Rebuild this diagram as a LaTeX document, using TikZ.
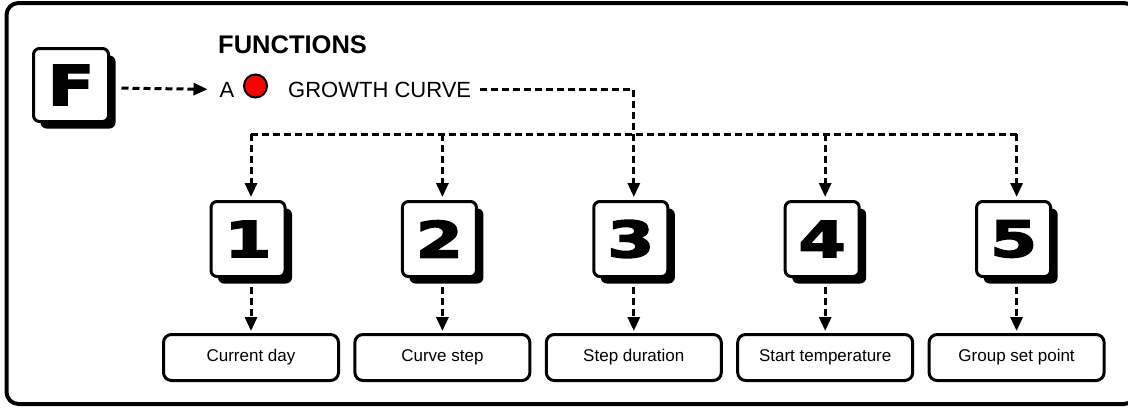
\documentclass[tikz,border=0pt]{standalone}
\usepackage{fontspec}
\usepackage{graphicx}
\setmainfont{Liberation Sans}
\newfontfamily\numfont[FakeBold=3]{DejaVu Sans Bold}
\usetikzlibrary{arrows.meta,shadows,calc}
\begin{document}
\begin{tikzpicture}[x=1pt,y=-1pt,
  frame/.style={draw, line width=4pt, rounded corners=12pt},
  numbox/.style={draw, line width=3pt, rounded corners=6pt, fill=white,
    minimum width=74pt, minimum height=75pt, inner sep=0pt,
    drop shadow={shadow xshift=7pt, shadow yshift=-7pt, fill=black, opacity=1},
    font=\numfont\fontsize{50}{50}\selectfont},
  fbox/.style={numbox, minimum width=75pt, minimum height=73pt,
    font=\numfont\fontsize{55}{55}\selectfont},
  labelbox/.style={draw, line width=3pt, rounded corners=8pt, fill=white,
    minimum width=175pt, minimum height=46pt, inner sep=0pt,
    font=\fontsize{17}{20}\selectfont},
  txt/.style={inner sep=0pt, anchor=base west, font=\fontsize{22}{26}\selectfont},
  title/.style={inner sep=0pt, anchor=base west, font=\bfseries\fontsize{25.5}{30}\selectfont},
  dline/.style={line width=3pt, dash pattern=on 7pt off 4pt},
  arr/.style={-{Triangle[length=14pt,width=12pt]}}
]
\useasboundingbox (0,0) rectangle (1128,408);
\draw[frame] (6.5,3) rectangle (1136,404);

\node[fbox] (F) at (71,85) {\scalebox{1.25}[1]{F}};
\node[title] (fun) at (218,53) {FUNCTIONS};
\node[txt] (A) at (219.5,97) {A};
\node[circle, draw, line width=2pt, fill=red, minimum size=23pt, inner sep=0pt] (dot) at (255.5,86) {};
\node[txt] (gc) at (288,97) {GROWTH CURVE};

\draw[dline,arr,shorten <=11.5pt,shorten >=12pt] ($(F.east)+(0,3)$) -- ($(A.west)+(0,0)$);

\foreach \i/\n/\t in {1/1/Current day,2/2/Curve step,3/3/Step duration,4/4/Start temperature,5/5/Group set point}{
  \pgfmathsetmacro\X{251+191.4*(\i-1)}
  \node[numbox] (b\i) at (\X-3,239) {\scalebox{1.35}[1]{\n}};
  \node[labelbox] (l\i) at (\X,357.5) {\t};
  \coordinate (j\i) at (\X,134);
  \draw[dline,arr,shorten >=3pt] (j\i) -- ($(b\i.north)+(3,0)$);
  \draw[dline,arr,shorten >=2pt] ($(b\i.south)+(3,8.5)$) -- (l\i.north);
}
\draw[dline] (j1) -- (j5);
\draw[dline] ($(gc.east)+(9,0)$) -| (j3);
\end{tikzpicture}
\end{document}
